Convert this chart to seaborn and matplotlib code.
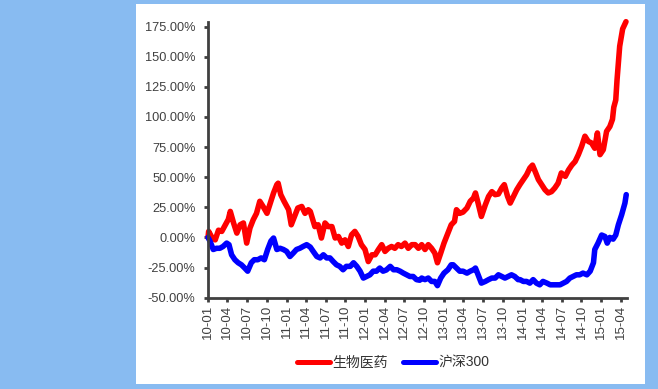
import numpy as np
import pandas as pd
import matplotlib
matplotlib.use("Agg")
import matplotlib.pyplot as plt
from matplotlib.patches import Rectangle
from matplotlib.lines import Line2D
from matplotlib.ticker import FuncFormatter
import seaborn as sns

# ---- data (time in months since 2010-01-01, value in %) ----
series_names = ["生物医药", "沪深300"]
series_colors = ["#FF0000", "#0000FF"]

red_t = [0.0, 0.1, 0.6, 1.1, 1.6, 2.1, 2.6, 3.1, 3.4, 3.9, 4.4, 4.9, 5.4, 5.9, 6.4, 6.9,
         7.4, 7.9, 8.4, 9.0, 9.5, 10.0, 10.5, 10.7, 11.1, 11.6, 12.3, 12.7, 13.2, 13.7,
         14.3, 14.8, 15.3, 15.6, 16.3, 16.8, 17.3, 17.85, 18.35, 18.9, 19.4, 19.9, 20.4,
         20.9, 21.4, 21.9, 22.4, 22.9, 23.4, 23.95, 24.45, 25.0, 25.5, 26.0, 26.5, 27.0,
         27.5, 28.0, 28.5, 29.0, 29.5, 30.05, 30.55, 31.1, 31.6, 32.1, 32.6, 33.1, 33.6,
         34.1, 34.6, 35.0, 35.5, 36.0, 36.6, 37.1, 37.6, 37.9, 38.4, 38.9, 39.5, 40.0,
         40.5, 40.8, 41.2, 41.7, 42.3, 42.8, 43.3, 43.8, 44.3, 44.8, 45.2, 45.7, 46.1,
         46.6, 47.1, 47.6, 48.1, 48.6, 49.1, 49.5, 49.9, 50.4, 50.9, 51.4, 51.9, 52.4,
         52.9, 53.4, 53.9, 54.5, 55.0, 55.5, 56.0, 56.5, 57.0, 57.5, 58.0, 58.5, 59.0,
         59.4, 59.8, 60.3, 60.8, 61.3, 61.7, 61.9, 62.2, 62.4, 62.8, 63.25, 63.76]
red_v = [0, 5, 0, -2, 6, 5, 10, 15, 21.6, 12, 3.6, 10.5, 12, -4.7, 7.8, 14.7,
         20, 30, 25.7, 20, 28.5, 36.9, 43.8, 45, 35.5, 30, 23, 10.5, 17.4, 24.4,
         25.7, 20, 23, 21.6, 9, 10.5, -0.5, 12, 9, 9, -0.5, 0.8, -4.7,
         -2, -7.5, 2.2, 5, 0.8, -6, -10, -20, -14.4, -14.4, -10, -6, -11.6,
         -9, -7.5, -9, -6, -7.5, -4.7, -9, -6, -6, -9, -6, -10, -6,
         -9, -13, -21, -13, -4.7, 3.6, 10.5, 13.3, 23, 20, 21, 24.4, 30,
         32.7, 36.9, 28.5, 17.4, 27, 34, 38, 35.5, 36, 41, 43.8, 34, 28.5,
         34, 39.6, 44, 48, 52, 57.6, 60, 54.8, 48, 43.8, 39.6, 36.9, 38,
         41, 45, 53.5, 50.7, 56, 60, 63, 68.7, 75.6, 84, 79.7, 78.4, 74,
         86.7, 68.7, 72.8, 88, 92, 98, 108, 114, 131, 158.6, 173, 179]

blue_t = [0.0, 0.3, 0.8, 1.3, 1.8, 2.3, 2.85, 3.2, 3.6, 4.1, 4.6, 5.1, 5.6, 6.05, 6.6,
          7.05, 7.6, 8.1, 8.6, 9.1, 9.6, 10.0, 10.5, 11.0, 11.5, 12.0, 12.5, 13.0, 13.5,
          14.0, 14.5, 15.05, 15.6, 16.05, 16.6, 17.1, 17.6, 18.1, 18.6, 19.1, 19.6, 20.1,
          20.6, 21.1, 21.7, 22.2, 22.7, 23.2, 23.7, 24.2, 24.7, 25.2, 25.7, 26.2, 26.7,
          27.2, 27.8, 28.3, 28.8, 29.3, 29.8, 30.3, 30.8, 31.3, 31.8, 32.3, 32.6, 33.1,
          33.6, 34.1, 34.6, 35.0, 35.5, 36.0, 36.6, 37.1, 37.4, 37.9, 38.4, 38.9, 39.5,
          40.0, 40.5, 40.8, 41.2, 41.7, 42.3, 42.8, 43.3, 43.8, 44.3, 44.8, 45.3, 45.8,
          46.3, 46.8, 47.3, 47.6, 48.1, 48.6, 49.1, 49.6, 50.1, 50.6, 51.1, 51.7, 52.2,
          52.7, 53.2, 53.7, 54.2, 54.7, 55.2, 55.7, 56.2, 56.7, 57.2, 57.8, 58.3, 58.8,
          59.0, 59.5, 60.05, 60.55, 60.9, 61.3, 61.8, 62.2, 62.6, 63.1, 63.6, 63.8]
blue_v = [0, -3, -10, -9, -9, -7.5, -4.7, -6, -14.4, -18.5, -21, -22.7, -25.4, -28, -21,
          -18.5, -18.5, -17, -18.5, -10, -3, -0.5, -10, -9, -10, -11.6, -15.8, -13, -10,
          -9, -7.5, -6, -8, -11.6, -15.8, -17, -14.4, -17, -17, -20, -22.7, -24,
          -26.8, -24, -24, -21, -24, -28, -33.7, -32.4, -31, -28, -28, -25.4, -28,
          -27, -24, -26.8, -26.8, -28, -29.6, -31, -32.4, -32.4, -35, -35.5, -33.7, -35,
          -33.7, -36.5, -36.5, -40, -33.7, -29.6, -26.8, -22.7, -22.7, -25.4, -28, -28, -29.6,
          -28, -26.8, -25.4, -31, -37.9, -36.5, -35, -33.7, -33.7, -31, -32.4, -33.7, -32.4,
          -31, -32.4, -35, -35, -36.5, -36.5, -37.9, -35, -37.9, -39.3, -36.5, -37.9, -39.3,
          -39.3, -39.3, -39.3, -37.9, -36.5, -33.7, -32.4, -31, -31, -29.6, -31, -28, -21,
          -10, -4.7, 2, 0.8, -4.7, 0, -1.4, 2, 10.5, 18.8, 28.5, 35.5]

tick_labels = ["10-01", "10-04", "10-07", "10-10", "11-01", "11-04", "11-07", "11-10",
               "12-01", "12-04", "12-07", "12-10", "13-01", "13-04", "13-07", "13-10",
               "14-01", "14-04", "14-07", "14-10", "15-01", "15-04"]
y_ticks = [-50, -25, 0, 25, 50, 75, 100, 125, 150, 175]

# ---- build long table ----
origin = pd.Timestamp("2010-01-01")
def to_dates(t):
    return origin + pd.to_timedelta(np.array(t) * 30.4375, unit="D")

df = pd.concat([
    pd.DataFrame({"date": to_dates(red_t), "value": red_v, "series": series_names[0]}),
    pd.DataFrame({"date": to_dates(blue_t), "value": blue_v, "series": series_names[1]}),
], ignore_index=True)

# ---- style ----
sns.set_style("white")
plt.rcParams["font.family"] = ["Liberation Sans", "Noto Sans CJK SC", "DejaVu Sans"]

fig = plt.figure(figsize=(6.58, 3.89), dpi=100)
fig.patch.set_facecolor("#88BBF1")
fig.patches.append(Rectangle((136 / 658, 1 - 384 / 389), (645 - 136) / 658, (384 - 4) / 389,
                             transform=fig.transFigure, facecolor="white", edgecolor="none",
                             zorder=-10))

ax = fig.add_axes([208 / 658, 1 - 297.7 / 389, (626.7 - 208) / 658, (297.7 - 21.7) / 389])
ax.set_facecolor("none")
ax.set_zorder(5)

sns.lineplot(data=df, x="date", y="value", hue="series", hue_order=series_names,
             palette=series_colors, linewidth=4.0, ax=ax, legend=False, sort=False,
             estimator=None)
for ln in ax.get_lines():
    ln.set_clip_on(False)

tick_dates = [pd.Timestamp(f"20{lbl[:2]}-{lbl[3:]}-01") for lbl in tick_labels]
ax.set_xticks(tick_dates)
ax.set_xticklabels(tick_labels, rotation=90)
ax.set_xlim(origin, origin + pd.Timedelta(days=63.87 * 30.4375))
ax.set_ylim(-50, 179)
ax.set_yticks(y_ticks)
ax.yaxis.set_major_formatter(FuncFormatter(lambda v, p: f"{v:.2f}%"))
ax.set_xlabel("")
ax.set_ylabel("")

for s in ["top", "right"]:
    ax.spines[s].set_visible(False)
for s in ["left", "bottom"]:
    ax.spines[s].set_color("#404040")
    ax.spines[s].set_linewidth(2.0)
ax.tick_params(axis="y", which="major", direction="out", length=3, width=2,
               color="#404040", labelsize=9.2, labelcolor="#404040", pad=6, left=True)
ax.tick_params(axis="x", which="major", direction="out", length=3, width=2,
               color="#404040", labelsize=9.5, labelcolor="#404040", pad=2, bottom=True)

handles = [Line2D([0], [0], color=c, linewidth=3.6, solid_capstyle="round")
           for c in series_colors]
fig.legend(handles, series_names, loc="center", bbox_to_anchor=(393 / 658, 1 - 363 / 389),
           ncol=2, frameon=False, fontsize=10, handlelength=2.4, handletextpad=0.15,
           columnspacing=1.1, labelcolor="#333333")

fig.savefig("out.png", dpi=100, facecolor=fig.get_facecolor())
